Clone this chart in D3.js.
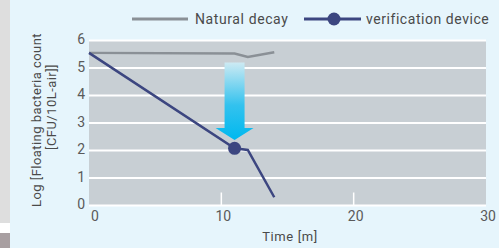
<!DOCTYPE html>
<html>
<style>
  body { margin: 0; overflow: hidden; background: #e6f5fc; }
  text { font-family: Roboto, "Noto Sans", sans-serif; fill: #4a4a4a; }
</style>
<script src="https://cdn.jsdelivr.net/npm/d3@7"></script>
<body>
<svg></svg>
<script>
// values
var time = [0, 11, 12, 14];
var naturalDecay = [5.55, 5.53, 5.4, 5.57];
var deviceCounts = [5.55, 2.08, 2.02, 0.3];
var markerIndex = [1];
var xTicks = [0, 10, 20, 30];
var yTicks = [0, 1, 2, 3, 4, 5, 6];
var seriesNames = ["Natural decay", "verification device"];
var arrowTime = 11, arrowFrom = 5.2, arrowTo = 2.38;

var width = 499, height = 248;

var svg = d3.select("svg")
    .attr("width", width)
    .attr("height", height);

// page decorations
svg.append("rect").attr("width", width).attr("height", height).attr("fill", "#e6f5fc");
svg.append("rect").attr("width", 10).attr("height", 223).attr("fill", "#dedede");
svg.append("rect").attr("y", 223).attr("width", 10).attr("height", 10).attr("fill", "#ffffff");
svg.append("rect").attr("y", 233).attr("width", 10).attr("height", 15).attr("fill", "#a89fa1");

var x = d3.scaleLinear().domain([0, 30]).range([89, 486]),
    y = d3.scaleLinear().domain([0, 6]).range([205.5, 40.5]);

svg.append("rect")
    .attr("x", x(0))
    .attr("y", y(6))
    .attr("width", x(30) - x(0))
    .attr("height", y(0) - y(6))
    .attr("fill", "#c8cfd4");

svg.selectAll(".grid")
    .data(yTicks)
  .enter().append("line")
    .attr("x1", x(0))
    .attr("x2", x(30))
    .attr("y1", function(d) {return y(d)})
    .attr("y2", function(d) {return y(d)})
    .attr("stroke", "#ffffff")
    .attr("stroke-width", 2);

svg.selectAll(".xtick")
    .data([10, 20])
  .enter().append("line")
    .attr("x1", function(d) {return x(d)})
    .attr("x2", function(d) {return x(d)})
    .attr("y1", y(0))
    .attr("y2", y(0) - 13)
    .attr("stroke", "#ffffff")
    .attr("stroke-width", 1.5);

svg.selectAll(".ylabel")
    .data(yTicks)
  .enter().append("text")
    .attr("x", x(0) - 4)
    .attr("y", function(d) {return y(d) - 1})
    .attr("dy", "0.35em")
    .attr("text-anchor", "end")
    .style("font-size", "14px")
    .style("fill", "#5a5a5a")
    .text(function(d) {return d});

svg.selectAll(".xlabel")
    .data(xTicks)
  .enter().append("text")
    .attr("x", function(d, i) {return x(d) + (i === 0 ? 6 : 2)})
    .attr("y", 221)
    .attr("text-anchor", "middle")
    .style("font-size", "14px")
    .style("fill", "#5a5a5a")
    .text(function(d) {return d});

svg.append("text")
    .attr("x", 290)
    .attr("y", 241)
    .attr("text-anchor", "middle")
    .style("font-size", "13px")
    .style("letter-spacing", "0.6px")
    .text("Time [m]");

svg.append("text")
    .attr("transform", "translate(41,120) rotate(-90)")
    .attr("text-anchor", "middle")
    .style("font-size", "13px")
    .style("letter-spacing", "0.45px")
    .text("Log [Floating bacteria count");

svg.append("text")
    .attr("transform", "translate(56,107) rotate(-90)")
    .attr("text-anchor", "middle")
    .style("font-size", "13px")
    .style("letter-spacing", "0.45px")
    .text("[CFU/10L-air]]");

// arrow
var grad = svg.append("defs").append("linearGradient")
    .attr("id", "arrowGrad")
    .attr("x1", 0).attr("y1", 0).attr("x2", 0).attr("y2", 1);
grad.append("stop").attr("offset", "0%").attr("stop-color", "#cdeaf3");
grad.append("stop").attr("offset", "55%").attr("stop-color", "#33c2ee");
grad.append("stop").attr("offset", "100%").attr("stop-color", "#00b8ef");

var ax = x(arrowTime), aTop = y(arrowFrom), aTip = y(arrowTo), headH = 12;
svg.append("path")
    .attr("d", "M" + (ax - 10) + "," + aTop +
               "L" + (ax + 10) + "," + aTop +
               "L" + (ax + 10) + "," + (aTip - headH) +
               "L" + (ax + 19) + "," + (aTip - headH) +
               "L" + ax + "," + aTip +
               "L" + (ax - 19) + "," + (aTip - headH) +
               "L" + (ax - 10) + "," + (aTip - headH) + "Z")
    .attr("fill", "url(#arrowGrad)");

var line = d3.line()
    .x(function(d, i) {return x(time[i])})
    .y(function(d) {return y(d)});

svg.append("path")
    .datum(naturalDecay)
    .attr("d", line)
    .attr("fill", "none")
    .attr("stroke", "#8a9096")
    .attr("stroke-width", 2.5);

svg.append("path")
    .datum(deviceCounts)
    .attr("d", line)
    .attr("fill", "none")
    .attr("stroke", "#3c4680")
    .attr("stroke-width", 2.5);

svg.selectAll(".marker")
    .data(markerIndex)
  .enter().append("circle")
    .attr("cx", function(i) {return x(time[i])})
    .attr("cy", function(i) {return y(deviceCounts[i])})
    .attr("r", 6.5)
    .attr("fill", "#3c4680");

// legend
var legend = svg.append("g");
legend.append("line")
    .attr("x1", 132).attr("x2", 188).attr("y1", 19).attr("y2", 19)
    .attr("stroke", "#8a9096").attr("stroke-width", 3);
legend.append("text")
    .attr("x", 195).attr("y", 23.5)
    .style("font-size", "14px")
    .style("letter-spacing", "0.6px")
    .text(seriesNames[0]);
legend.append("line")
    .attr("x1", 304).attr("x2", 361).attr("y1", 19).attr("y2", 19)
    .attr("stroke", "#3c4680").attr("stroke-width", 3);
legend.append("circle")
    .attr("cx", 334).attr("cy", 19).attr("r", 6.5)
    .attr("fill", "#3c4680");
legend.append("text")
    .attr("x", 366).attr("y", 23.5)
    .style("font-size", "14px")
    .style("letter-spacing", "0.55px")
    .text(seriesNames[1]);
</script>
</body>
</html>
